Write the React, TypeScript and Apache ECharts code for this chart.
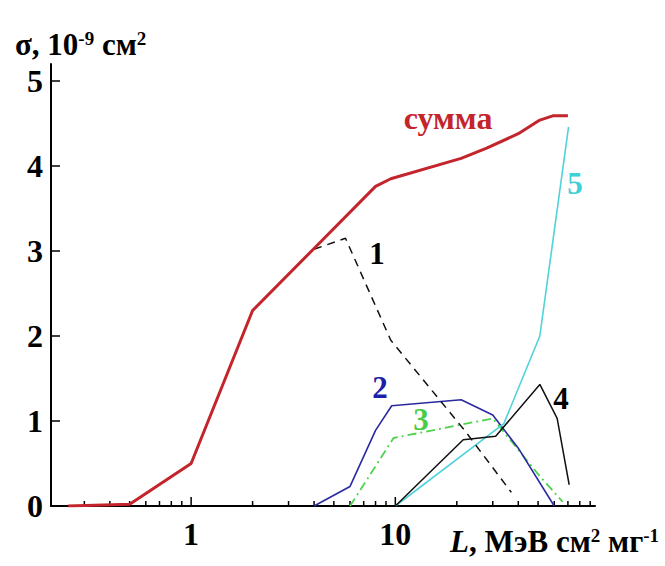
import React, { useEffect, useRef } from 'react';
import * as echarts from 'echarts';

// LET values (МэВ см² мг⁻¹) and cross-sections (10⁻⁹ см²)
const sumL = [0.25, 0.5, 1, 2, 4, 8, 9.5, 21, 28, 40, 51, 59, 70];
const sumS = [0, 0.02, 0.5, 2.3, 3.03, 3.76, 3.85, 4.09, 4.21, 4.38, 4.54, 4.59, 4.59];

const c1L = [4, 5.7, 9.5, 22, 37];
const c1S = [3.02, 3.15, 1.95, 0.88, 0.16];

const c2L = [4, 6, 8, 9.6, 21, 30, 40, 60];
const c2S = [0, 0.23, 0.89, 1.18, 1.25, 1.07, 0.68, 0];

const c3L = [6, 9.8, 30, 51, 66];
const c3S = [0, 0.8, 1.03, 0.35, 0.05];

const c4L = [10, 21.5, 31, 51, 62, 71];
const c4S = [0, 0.78, 0.82, 1.43, 1.03, 0.25];

const c5L = [10, 34, 51, 70.5];
const c5S = [0, 0.97, 2.0, 4.46];

// tick marks of the logarithmic axis
const majorTicks = [1, 10];
const minorTicks = [0.3, 0.4, 0.5, 0.6, 0.7, 0.8, 0.9, 2, 3, 4, 5, 6, 7, 8, 9, 20, 30, 40, 50, 60, 70, 80, 90];
const yTicks = [0, 1, 2, 3, 4, 5];

const SERIF = "'Liberation Serif', 'Times New Roman', serif";

const pairs = (xs: number[], ys: number[]) => xs.map((x, i) => [x, ys[i]]);

export default function App() {
  const ref = useRef<HTMLDivElement>(null);

  useEffect(() => {
    const chart = echarts.init(ref.current!, null, { renderer: 'svg' });

    const tickData = [
      ...majorTicks.map((v) => [v, 0, 9]),
      ...minorTicks.map((v) => [v, 0, 5]),
    ];

    const line = (data: number[][], color: string, width: number, type: any, z = 3) => ({
      type: 'line',
      data,
      symbol: 'none',
      silent: true,
      z,
      lineStyle: { color, width, type },
    });

    const numLabel = (text: string, x: number, y: number, fill: string) => ({
      type: 'text',
      x,
      y,
      style: { text, fill, font: `bold 31px ${SERIF}`, textAlign: 'center', textVerticalAlign: 'middle' },
    });

    chart.setOption({
      animation: false,
      backgroundColor: '#fff',
      grid: { left: 51, top: 64, width: 544, height: 442, containLabel: false },
      xAxis: {
        type: 'log',
        logBase: 10,
        min: 0.206,
        max: 95,
        axisLine: { show: true, lineStyle: { color: '#000', width: 2 } },
        axisTick: { show: false },
        splitLine: { show: false },
        axisLabel: {
          margin: 12,
          color: '#000',
          fontSize: 32,
          fontWeight: 'bold',
          fontFamily: SERIF,
          formatter: (v: number) => {
            if (Math.abs(v - 1) < 1e-6) return '1';
            if (Math.abs(v - 10) < 1e-6) return '10';
            return '';
          },
        },
      },
      yAxis: {
        type: 'value',
        min: 0,
        max: 5.2,
        axisLine: { show: true, lineStyle: { color: '#000', width: 2 } },
        axisTick: {
          show: true,
          inside: true,
          length: 9,
          customValues: yTicks,
          lineStyle: { color: '#000', width: 1.5 },
        },
        splitLine: { show: false },
        axisLabel: {
          customValues: yTicks,
          margin: 8,
          color: '#000',
          fontSize: 32,
          fontWeight: 'bold',
          fontFamily: SERIF,
        },
      },
      series: [
        {
          type: 'custom',
          silent: true,
          z: 1,
          dimensions: ['L', 'y', 'len'],
          encode: { x: 0, y: 1 },
          data: tickData,
          renderItem: (_params: any, api: any) => {
            const p = api.coord([api.value(0), 0]);
            const len = api.value(2);
            return {
              type: 'line',
              shape: { x1: p[0], y1: p[1], x2: p[0], y2: p[1] - len },
              style: { stroke: '#000', lineWidth: 1.5 },
            };
          },
        },
        line(pairs(c3L, c3S), '#4fd24f', 1.8, [9, 4, 2, 4]),
        line(pairs(c2L, c2S), '#2a2aa0', 1.6, 'solid'),
        line(pairs(c5L, c5S), '#4fd3d8', 1.6, 'solid'),
        line(pairs(c4L, c4S), '#111', 1.5, 'solid'),
        line(pairs(c1L, c1S), '#111', 1.5, [8, 6]),
        line(pairs(sumL, sumS), '#c4242b', 3, 'solid', 4),
      ],
      graphic: [
        {
          type: 'text',
          x: 15,
          y: 44,
          style: {
            text: '{m|σ, 10}{s|-9}{m| см}{s|2}',
            textVerticalAlign: 'middle',
            rich: {
              m: { fontSize: 31, fontWeight: 'bold', fontFamily: SERIF, fill: '#000' },
              s: { fontSize: 19, fontWeight: 'bold', fontFamily: SERIF, fill: '#000', verticalAlign: 'top' },
            },
          },
        },
        {
          type: 'text',
          x: 450,
          y: 541,
          style: {
            text: '{i|L}{m|, МэВ см}{s|2}{m| мг}{s|-1}',
            textVerticalAlign: 'middle',
            rich: {
              i: { fontSize: 31, fontWeight: 'bold', fontStyle: 'italic', fontFamily: SERIF, fill: '#000' },
              m: { fontSize: 31, fontWeight: 'bold', fontFamily: SERIF, fill: '#000' },
              s: { fontSize: 19, fontWeight: 'bold', fontFamily: SERIF, fill: '#000', verticalAlign: 'top' },
            },
          },
        },
        {
          type: 'text', x: 448, y: 118,
          style: { text: 'сумма', fill: '#c4242b', font: `bold 32px ${SERIF}`, textAlign: 'center', textVerticalAlign: 'middle' },
        },
        numLabel('1', 377, 253, '#000'),
        numLabel('2', 380, 387, '#1e1ea8'),
        numLabel('3', 421, 419, '#48cc48'),
        numLabel('4', 561, 398, '#000'),
        numLabel('5', 575, 183, '#3fcfd6'),
      ],
    });

    return () => chart.dispose();
  }, []);

  return (
    <div
      ref={ref}
      style={{ position: 'fixed', left: 0, top: 0, width: 665, height: 566, background: '#fff' }}
    />
  );
}
